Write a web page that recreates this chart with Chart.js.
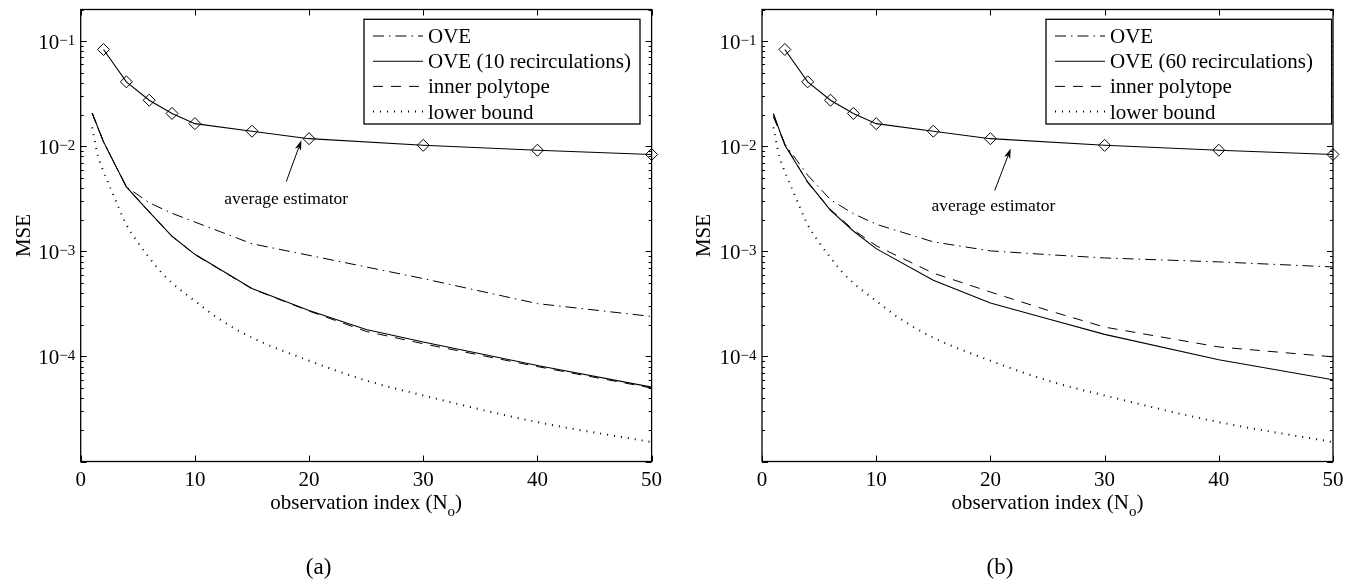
<!DOCTYPE html>
<html><head><meta charset="utf-8">
<script src="https://cdn.jsdelivr.net/npm/chart.js@4.4.0/dist/chart.umd.min.js"></script>
<style>
html,body{margin:0;padding:0;background:#fff;}
#wrap{position:relative;width:1358px;height:583px;overflow:hidden;}
.pane{position:absolute;top:0;height:583px;}
</style></head><body>
<div id="wrap">
<div class="pane" style="left:0;width:680px"><canvas id="ca"></canvas></div>
<div class="pane" style="left:680px;width:678px"><canvas id="cb"></canvas></div>
</div>
<script>
// ---------- data ----------
const obsIndex = [1, 2, 4, 6, 8, 10, 15, 20, 25, 30, 40, 50];
const avgIndex = [2, 4, 6, 8, 10, 15, 20, 30, 40, 50];
const lbIndex  = [1, 1.5, 2, 3, 4, 5, 6, 7, 8, 10, 12, 15, 20, 25, 30, 40, 50];

const avgEstimator = [0.0833, 0.041, 0.0274, 0.0205, 0.0164, 0.0139, 0.0118, 0.0102, 0.00916, 0.00834];
const lowerBound = [0.0151, 0.00817, 0.00573, 0.00317, 0.00179, 0.00122, 0.00087, 0.00064, 0.0005,
                    0.000337, 0.000232, 0.000151, 0.000091, 0.000059, 0.0000425, 0.0000237, 0.0000153];

// panel (a)
const oveA      = [0.0207, 0.011, 0.0041, 0.0029, 0.0023, 0.0019, 0.00118, 0.000916, 0.00071, 0.00055, 0.000318, 0.00024];
const oveRecA   = [0.0207, 0.011, 0.0041, 0.00237, 0.00139, 0.000936, 0.000442, 0.000274, 0.00018, 0.000137, 0.000082, 0.000051];
const innerA    = [0.0207, 0.011, 0.0041, 0.00237, 0.00139, 0.00093, 0.00044, 0.00027, 0.000173, 0.000132, 0.00008, 0.00005];
// panel (b)
const oveB      = [0.0197, 0.0105, 0.0053, 0.0031, 0.00228, 0.00181, 0.00123, 0.00101, 0.00093, 0.000865, 0.000793, 0.00071];
const oveRecB   = [0.0205, 0.0102, 0.00457, 0.00245, 0.00156, 0.00106, 0.00053, 0.000322, 0.000228, 0.000162, 0.000093, 0.00006];
const innerB    = [0.019, 0.0105, 0.0045, 0.0025, 0.0016, 0.00113, 0.00062, 0.00041, 0.000275, 0.00019, 0.000123, 0.000099];

const xTicks = [0, 10, 20, 30, 40, 50];
const yMajor = [1e-1, 1e-2, 1e-3, 1e-4];
const yMajorExp = ['\u22121', '\u22122', '\u22123', '\u22124'];
const legendLabelsA = ['OVE', 'OVE (10 recirculations)', 'inner polytope', 'lower bound'];
const legendLabelsB = ['OVE', 'OVE (60 recirculations)', 'inner polytope', 'lower bound'];

// ---------- styles ----------
const DASHDOT = [11, 5, 1.5, 5];
const DASHED = [10, 8];
const DOTTED = [1, 6];
const SERIF = '"Liberation Serif", "Times New Roman", serif';

function pts(xs, ys) { return xs.map((x, i) => ({x: x, y: ys[i]})); }

function datasets(ove, rec, inner) {
  const base = {borderColor: '#000', backgroundColor: 'rgba(0,0,0,0)', pointRadius: 0, fill: false, tension: 0, borderCapStyle: 'butt'};
  return [
    Object.assign({}, base, {label: 'OVE', data: pts(obsIndex, ove), borderWidth: 1, borderDash: DASHDOT}),
    Object.assign({}, base, {label: 'OVE rec', data: pts(obsIndex, rec), borderWidth: 1.1}),
    Object.assign({}, base, {label: 'inner polytope', data: pts(obsIndex, inner), borderWidth: 1, borderDash: DASHED}),
    Object.assign({}, base, {label: 'lower bound', data: pts(lbIndex, lowerBound), borderWidth: 2, borderDash: DOTTED, cubicInterpolationMode: 'monotone'}),
    Object.assign({}, base, {label: 'average estimator', data: pts(avgIndex, avgEstimator), borderWidth: 1.1,
      pointRadius: 6, pointStyle: 'rectRot', pointBorderColor: '#000', pointBackgroundColor: 'rgba(0,0,0,0)', pointBorderWidth: 1, clip: false})
  ];
}

function decor(cfg) {
  return {
    id: 'decor' + cfg.tag,
    afterDraw(chart) {
      const ctx = chart.ctx, a = chart.chartArea, xs = chart.scales.x, ys = chart.scales.y;
      ctx.save();
      ctx.strokeStyle = '#000'; ctx.fillStyle = '#000';
      const seg = (x1, y1, x2, y2) => { ctx.beginPath(); ctx.moveTo(x1, y1); ctx.lineTo(x2, y2); ctx.stroke(); };
      // ticks
      ctx.lineWidth = 1;
      xTicks.forEach(v => {
        const px = Math.round(xs.getPixelForValue(v)) + 0.5;
        seg(px, a.bottom, px, a.bottom - 6);
        seg(px, a.top, px, a.top + 6);
      });
      for (let e = -5; e <= -1; e++) {
        for (let m = 1; m <= 9; m++) {
          const v = m * Math.pow(10, e);
          if (v > ys.max * 1.0001 || v < ys.min * 0.9999) continue;
          const py = Math.round(ys.getPixelForValue(v)) + 0.5;
          const len = m === 1 ? 6 : 3;
          seg(a.left, py, a.left + len, py);
          seg(a.right, py, a.right - len, py);
        }
      }
      // frame
      ctx.lineWidth = 1.3;
      ctx.strokeRect(a.left, a.top, a.right - a.left, a.bottom - a.top);
      // x tick labels
      ctx.font = '21px ' + SERIF;
      ctx.textAlign = 'center'; ctx.textBaseline = 'alphabetic';
      xTicks.forEach(v => ctx.fillText(String(v), xs.getPixelForValue(v), a.bottom + 24.5));
      // y tick labels 10^-k
      yMajor.forEach((v, i) => {
        const py = ys.getPixelForValue(v);
        ctx.font = '15px ' + SERIF;
        const ew = ctx.measureText(yMajorExp[i]).width;
        ctx.textAlign = 'left';
        const ex = a.left - 5.5 - ew;
        ctx.fillText(yMajorExp[i], ex, py + 3.5);
        ctx.font = '21px ' + SERIF;
        ctx.textAlign = 'right';
        ctx.fillText('10', ex, py + 8);
      });
      // y title
      ctx.save();
      ctx.translate(cfg.yTitleX, (a.top + a.bottom) / 2);
      ctx.rotate(-Math.PI / 2);
      ctx.font = '21px ' + SERIF; ctx.textAlign = 'center'; ctx.textBaseline = 'middle';
      ctx.fillText('MSE', 0, 0);
      ctx.restore();
      // x title with subscript
      ctx.textAlign = 'left'; ctx.textBaseline = 'alphabetic';
      ctx.font = '21px ' + SERIF;
      const t1 = 'observation index (N', t3 = ')';
      const w1 = ctx.measureText(t1).width, w3 = ctx.measureText(t3).width;
      ctx.font = '15px ' + SERIF;
      const t2 = 'o', w2 = ctx.measureText(t2).width;
      const cx = (a.left + a.right) / 2;
      let sx = cx - (w1 + w2 + w3) / 2;
      const by = a.bottom + 47.5;
      ctx.font = '21px ' + SERIF; ctx.fillText(t1, sx, by);
      ctx.font = '15px ' + SERIF; ctx.fillText(t2, sx + w1, by + 7);
      ctx.font = '21px ' + SERIF; ctx.fillText(t3, sx + w1 + w2, by);
      // panel label
      ctx.font = '23px ' + SERIF; ctx.textAlign = 'center';
      ctx.fillText(cfg.panel, cfg.panelX, 574);
      // annotation: text + arrow
      ctx.font = '17.5px ' + SERIF; ctx.textAlign = 'center'; ctx.textBaseline = 'middle';
      ctx.fillText('average estimator', xs.getPixelForValue(cfg.annText[0]), ys.getPixelForValue(cfg.annText[1]));
      const tx = xs.getPixelForValue(cfg.arrowTail[0]), ty = ys.getPixelForValue(cfg.arrowTail[1]);
      const hx = xs.getPixelForValue(cfg.arrowHead[0]), hy = ys.getPixelForValue(cfg.arrowHead[1]);
      const ang = Math.atan2(hy - ty, hx - tx), L = 10, W = 3.2;
      ctx.lineWidth = 1;
      seg(tx, ty, hx - Math.cos(ang) * L * 0.8, hy - Math.sin(ang) * L * 0.8);
      ctx.beginPath();
      ctx.moveTo(hx, hy);
      ctx.lineTo(hx - Math.cos(ang) * L - Math.sin(ang) * W, hy - Math.sin(ang) * L + Math.cos(ang) * W);
      ctx.lineTo(hx - Math.cos(ang) * L * 0.75, hy - Math.sin(ang) * L * 0.75);
      ctx.lineTo(hx - Math.cos(ang) * L + Math.sin(ang) * W, hy - Math.sin(ang) * L - Math.cos(ang) * W);
      ctx.closePath(); ctx.fill();
      // legend
      const bx = a.right - cfg.legRight - cfg.legW, bt = a.top + 9.8, bh = 104.7;
      ctx.fillStyle = '#fff'; ctx.fillRect(bx, bt, cfg.legW, bh); ctx.fillStyle = '#000';
      ctx.lineWidth = 1.3; ctx.strokeRect(bx, bt, cfg.legW, bh);
      const styles = [[DASHDOT, 1], [[], 1.1], [DASHED, 1], [DOTTED, 2]];
      ctx.textAlign = 'left'; ctx.textBaseline = 'alphabetic';
      ctx.font = '21px ' + SERIF;
      cfg.labels.forEach((lab, i) => {
        const ry = bt + 16.7 + i * 25.2;
        ctx.setLineDash(styles[i][0]); ctx.lineWidth = styles[i][1]; ctx.lineCap = 'butt';
        seg(bx + 9, ry, bx + 59, ry);
        ctx.setLineDash([]);
        ctx.fillText(lab, bx + 64, ry + 7);
      });
      ctx.restore();
    }
  };
}

function makeChart(id, sets, cfg, pad) {
  return new Chart(document.getElementById(id), {
    type: 'line',
    data: {datasets: sets},
    options: {
      responsive: true, maintainAspectRatio: false, animation: false, events: [],
      layout: {padding: pad},
      plugins: {legend: {display: false}, tooltip: {enabled: false}},
      scales: {
        x: {type: 'linear', min: 0, max: 50, display: false},
        y: {type: 'logarithmic', min: 1e-5, max: 0.2, display: false}
      }
    },
    plugins: [decor(cfg)]
  });
}

makeChart('ca', datasets(oveA, oveRecA, innerA), {
  tag: 'A', labels: legendLabelsA, panel: '(a)', panelX: 318.6, yTitleX: 24.5,
  legRight: 11.6, legW: 276,
  annText: [18.0, 0.0031], arrowTail: [18.0, 0.0046], arrowHead: [19.33, 0.0114]
}, {left: 80.7, right: 28.4, top: 9.5, bottom: 121.5});

makeChart('cb', datasets(oveB, oveRecB, innerB), {
  tag: 'B', labels: legendLabelsB, panel: '(b)', panelX: 320, yTitleX: 24.5,
  legRight: 1.4, legW: 285.6,
  annText: [20.26, 0.00268], arrowTail: [20.38, 0.0038], arrowHead: [21.78, 0.0095]
}, {left: 82, right: 25, top: 9.5, bottom: 121.5});
</script>
</body></html>
